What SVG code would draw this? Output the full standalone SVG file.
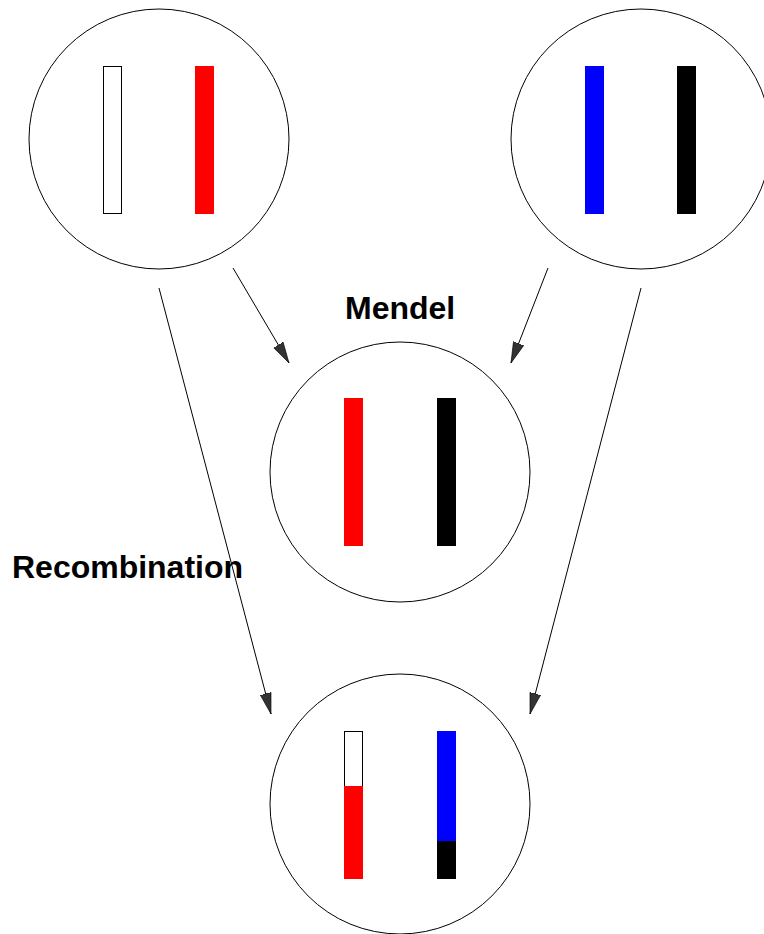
<svg xmlns="http://www.w3.org/2000/svg" width="764" height="934" viewBox="0 0 764 934">
<style>
.cell{fill:#fff;stroke:#000;stroke-width:1}
.lbl{font-family:"Liberation Sans",Arial,sans-serif;font-weight:bold;font-size:32px;fill:#000}
.con{stroke:#000;stroke-width:1;fill:none;marker-end:url(#ah)}
.empty{fill:#fff;stroke:#000;stroke-width:1}
</style>
<defs>
<marker id="ah" markerUnits="userSpaceOnUse" markerWidth="22" markerHeight="12" refX="21" refY="6" orient="auto">
<path d="M0,0.5 L21,6 L0,11.5 z" fill="#333" stroke="#000" stroke-width="0.6"/>
</marker>
</defs>
<rect width="764" height="934" fill="#fff"/>
<g id="parent1">
<circle class="cell" cx="159" cy="139" r="130"/>
<rect class="empty" x="103.5" y="66.5" width="18" height="147"/>
<rect x="195" y="66" width="19" height="148" fill="#f00"/>
</g>
<g id="parent2">
<circle class="cell" cx="641" cy="139" r="130"/>
<rect x="585" y="66" width="19" height="148" fill="#00f"/>
<rect x="677" y="66" width="19" height="148" fill="#000"/>
</g>
<g id="mendel">
<circle class="cell" cx="400" cy="472" r="130"/>
<rect x="344" y="398" width="19" height="148" fill="#f00"/>
<rect x="437" y="398" width="19" height="148" fill="#000"/>
</g>
<g id="recombination">
<circle class="cell" cx="400" cy="804" r="130"/>
<rect class="empty" x="344.5" y="731.5" width="18" height="55"/>
<rect x="344" y="786" width="19" height="93" fill="#f00"/>
<rect x="437" y="731" width="19" height="110" fill="#00f"/>
<rect x="437" y="841" width="19" height="38" fill="#000"/>
</g>
<g id="connectors">
<line class="con" x1="233" y1="268" x2="289" y2="363"/>
<line class="con" x1="548" y1="268" x2="511" y2="363"/>
<line class="con" x1="159" y1="288" x2="271" y2="714"/>
<line class="con" x1="641" y1="288" x2="530" y2="714"/>
</g>
<g id="labels">
<text class="lbl" x="345" y="319">Mendel</text>
<text class="lbl" x="12" y="578" textLength="231">Recombination</text>
</g>
</svg>
